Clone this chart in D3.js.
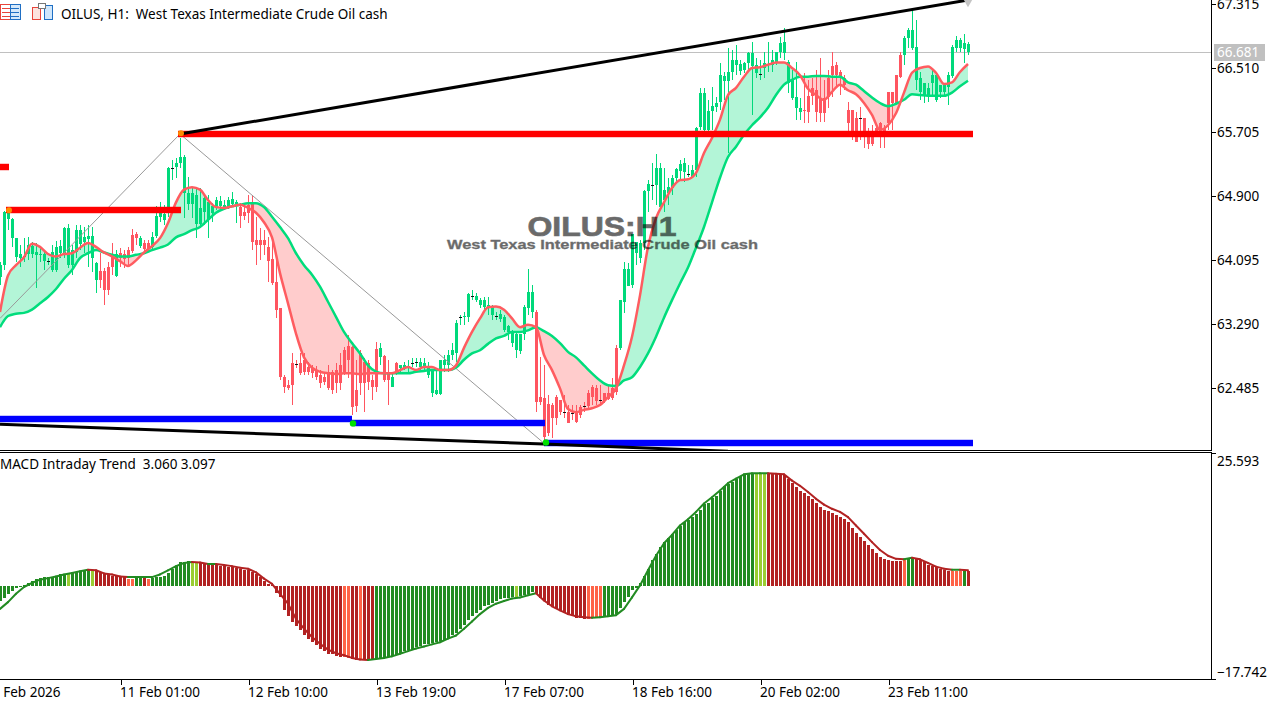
<!DOCTYPE html>
<html><head><meta charset="utf-8"><title>OILUS H1</title>
<script src="https://cdn.jsdelivr.net/npm/d3@7"></script>
<style>html,body{margin:0;padding:0;background:#fff;overflow:hidden}svg{display:block}text{font-family:"Noto Sans",Tahoma,sans-serif;font-size:13.5px;fill:#000;white-space:pre}</style>
</head><body><svg id="c" width="1279" height="702"></svg>
<script>
const titleText="OILUS, H1:  West Texas Intermediate Crude Oil cash";
const macdLabel="MACD Intraday Trend  3.060 3.097";
const watermarkMain="OILUS:H1";
const watermarkSub="West Texas Intermediate Crude Oil cash";
const priceTicks=[67.315,66.510,65.705,64.900,64.095,63.290,62.485];
const lastPrice=66.681;
const lastPriceLevel=66.715;
const macdTicks=[25.593,-17.742];
const timeTickBars=[-2,30,62,94,126,158,190,222];
const timeTickLabels=["9 Feb 2026","11 Feb 01:00","12 Feb 10:00","13 Feb 19:00","17 Feb 07:00","18 Feb 16:00","20 Feb 02:00","23 Feb 11:00"];

const candleHigh=[64.07,64.71,64.72,64.62,64.37,64.28,64.37,64.38,64.32,64.31,
64.26,64.22,64.12,64.28,64.33,64.35,64.51,64.55,64.28,64.53,
64.53,64.51,64.53,64.51,64.07,64.18,63.99,64.07,64.31,64.22,
64.24,64.22,64.26,64.48,64.45,64.40,64.35,64.35,64.45,64.77,
64.82,64.79,65.26,65.35,65.38,65.63,65.42,65.14,65.00,65.00,
65.00,64.91,64.91,64.81,64.89,64.90,64.85,64.89,64.95,64.85,
64.81,64.79,64.91,64.91,64.64,64.50,64.47,64.38,64.35,64.09,
63.49,62.65,62.58,62.92,62.84,62.92,62.92,62.81,62.77,62.76,
62.71,62.69,62.77,62.71,62.80,62.92,63.00,63.15,63.01,62.84,
62.96,62.86,62.84,62.65,63.06,63.05,62.90,62.84,62.69,62.81,
62.77,62.81,62.84,62.86,62.86,62.86,62.86,62.81,62.71,62.71,
62.84,62.90,62.96,63.05,63.34,63.40,63.44,63.68,63.72,63.68,
63.62,63.63,63.63,63.53,63.44,63.47,63.40,63.28,63.21,63.19,
63.16,63.53,63.98,63.78,63.47,62.87,62.77,62.40,62.30,62.40,
62.33,62.40,62.27,62.27,62.27,62.27,62.31,62.46,62.52,62.52,
62.52,62.42,62.52,62.61,63.03,63.59,64.07,64.06,64.42,64.32,
64.35,64.98,65.10,65.31,65.43,65.31,65.25,65.13,65.16,65.25,
65.35,65.38,65.29,65.29,65.77,66.26,66.26,66.11,66.27,66.14,
66.57,66.46,66.76,66.74,66.80,66.61,66.58,66.71,66.84,66.64,
66.61,66.71,66.84,66.74,66.71,66.90,67.01,66.61,66.48,66.58,
66.13,66.45,66.36,66.38,66.48,66.64,66.36,66.48,66.71,66.58,
66.48,66.42,66.08,65.98,65.96,66.02,65.88,65.75,65.79,65.79,
65.83,65.79,66.21,66.21,66.42,66.71,66.91,67.01,67.24,67.11,
66.46,66.32,66.32,66.48,66.46,66.30,66.32,66.46,66.80,66.91,
66.89,66.94,66.84];
const candleLow=[63.78,63.97,64.47,64.26,64.07,64.01,64.07,64.09,64.12,63.74,
64.07,63.97,64.03,63.94,63.94,64.12,64.12,63.99,63.91,64.12,
64.22,64.18,64.01,63.94,63.68,63.74,63.53,63.65,63.91,63.88,
64.01,63.99,64.01,64.18,64.28,64.25,64.19,64.19,64.22,64.37,
64.57,64.53,64.64,65.10,65.13,65.25,64.62,64.72,64.62,64.37,
64.50,64.53,64.37,64.57,64.72,64.74,64.72,64.74,64.77,64.56,
64.50,64.60,64.56,64.22,64.03,64.09,64.16,63.82,63.78,63.36,
62.58,62.42,62.46,62.27,62.74,62.65,62.65,62.65,62.61,62.58,
62.48,62.52,62.46,62.41,62.42,62.46,62.65,62.61,62.14,62.18,
62.40,62.18,62.46,62.33,62.43,62.77,62.56,62.27,62.50,62.65,
62.69,62.71,62.69,62.75,62.75,62.71,62.71,62.61,62.37,62.40,
62.40,62.69,62.69,62.84,62.81,63.28,63.28,63.31,63.59,63.57,
63.49,63.47,63.40,63.34,63.34,63.31,63.19,63.09,63.00,62.86,
62.91,63.09,63.40,63.37,62.18,62.27,61.83,61.88,61.86,62.02,
62.14,62.11,62.04,62.08,62.04,62.11,62.18,62.21,62.27,62.27,
62.28,62.30,62.33,62.33,62.40,62.96,63.43,63.77,63.74,64.03,
64.06,64.22,64.70,64.85,64.79,64.72,64.70,64.79,64.91,65.08,
65.10,65.08,65.14,65.14,65.14,65.73,65.68,65.70,65.73,65.96,
65.98,66.11,65.44,66.36,66.42,66.42,66.45,66.48,65.92,66.38,
66.36,66.38,66.46,66.46,66.55,66.64,66.61,66.20,66.11,65.86,
65.86,65.82,65.82,66.04,65.83,65.83,65.83,66.01,66.14,66.26,
66.17,66.23,65.70,65.60,65.58,65.60,65.51,65.49,65.53,65.67,
65.51,65.51,65.73,65.73,66.04,66.38,66.55,66.76,66.74,66.23,
66.11,66.07,66.08,66.17,66.08,66.13,66.17,66.04,66.38,66.71,
66.71,66.57,66.67];
const candleOpen=[63.88,64.03,64.61,64.37,64.13,64.12,64.14,64.17,64.17,64.16,
64.16,64.08,64.08,63.97,63.97,64.18,64.18,64.03,64.03,64.19,
64.30,64.32,64.36,64.12,63.84,63.96,63.96,64.01,64.16,63.89,
64.18,64.17,64.22,64.41,64.42,64.27,64.31,64.31,64.26,64.40,
64.64,64.60,64.76,65.25,65.26,65.31,64.94,64.80,64.80,64.55,
64.55,64.70,64.60,64.69,64.76,64.77,64.75,64.76,64.80,64.80,
64.76,64.70,64.79,64.81,64.35,64.35,64.35,64.26,64.11,63.82,
63.49,62.62,62.52,62.80,62.79,62.80,62.84,62.75,62.74,62.71,
62.65,62.62,62.69,62.69,62.71,62.77,62.96,63.01,63.00,62.46,
62.92,62.81,62.80,62.58,62.97,62.87,62.89,62.67,62.50,62.80,
62.74,62.74,62.74,62.80,62.81,62.75,62.75,62.65,62.42,62.41,
62.41,62.77,62.77,62.90,62.92,63.38,63.38,63.38,63.64,63.59,
63.53,63.50,63.50,63.40,63.39,63.35,63.22,63.19,63.05,62.96,
62.95,63.16,63.49,63.44,63.44,62.37,62.36,62.28,62.27,62.37,
62.33,62.18,62.18,62.17,62.18,62.25,62.26,62.42,62.50,62.48,
62.33,62.42,62.42,62.48,62.99,62.99,63.57,63.77,63.78,64.18,
64.12,64.31,64.96,65.04,65.04,64.76,64.85,64.94,65.00,65.13,
65.21,65.20,65.18,65.14,65.23,65.77,65.73,65.73,65.97,66.02,
66.08,66.35,66.35,66.46,66.55,66.47,66.48,66.57,66.53,66.45,
66.43,66.51,66.56,66.55,66.58,66.71,66.70,66.32,66.13,66.01,
65.96,65.98,66.16,66.26,66.23,66.13,66.13,66.38,66.53,66.55,
66.46,66.38,65.98,65.98,65.88,65.88,65.88,65.70,65.70,65.75,
65.82,65.75,66.21,66.21,66.42,66.67,66.67,66.89,66.76,66.36,
66.21,66.17,66.17,66.32,66.11,66.21,66.21,66.27,66.41,66.76,
66.76,66.75,66.71];
const candleClose=[64.03,64.70,64.72,64.61,64.37,64.17,64.14,64.28,64.27,64.19,
64.17,64.17,64.08,64.19,64.26,64.27,64.50,64.50,64.22,64.47,
64.47,64.38,64.40,64.40,64.06,63.84,63.72,63.72,64.01,64.17,
64.12,64.11,64.12,64.21,64.37,64.37,64.23,64.23,64.38,64.65,
64.69,64.67,65.25,65.25,65.31,65.39,65.39,64.94,64.94,64.91,
64.75,64.87,64.82,64.77,64.85,64.84,64.79,64.85,64.86,64.82,
64.65,64.65,64.69,64.32,64.28,64.28,64.28,64.08,63.81,63.47,
62.62,62.50,62.48,62.52,62.79,62.67,62.69,62.69,62.67,62.62,
62.55,62.56,62.48,62.46,62.55,62.55,62.69,62.84,62.25,62.26,
62.55,62.55,62.56,62.50,62.50,62.99,62.58,62.58,62.62,62.67,
62.77,62.77,62.76,62.80,62.81,62.81,62.80,62.75,62.71,62.46,
62.84,62.84,62.90,62.96,63.30,63.38,63.39,63.67,63.64,63.64,
63.59,63.59,63.53,63.50,63.39,63.41,63.38,63.27,63.19,63.16,
63.16,63.50,63.69,63.69,62.31,62.31,61.87,61.92,62.11,62.11,
62.18,62.18,62.04,62.17,62.06,62.14,62.26,62.26,62.37,62.32,
62.33,62.32,62.35,62.36,62.43,63.59,63.98,63.98,64.42,64.32,
64.31,64.96,65.05,65.04,65.25,65.25,64.98,65.01,65.13,65.24,
65.30,65.31,65.18,65.23,65.75,66.20,66.20,65.97,66.03,66.07,
66.42,66.41,66.46,66.61,66.61,66.56,66.57,66.70,66.70,66.55,
66.43,66.57,66.56,66.61,66.71,66.82,66.84,66.58,66.36,66.14,
66.01,65.97,65.96,66.16,65.96,65.94,65.94,66.14,66.42,66.42,
66.38,66.30,65.82,65.64,65.58,65.88,65.70,65.55,65.55,65.70,
65.73,65.70,65.82,66.07,66.07,66.40,66.89,66.99,66.99,66.77,
66.38,66.32,66.26,66.42,66.42,66.30,66.30,66.42,66.77,66.86,
66.86,66.82,66.81];

// moving averages, read every second bar
const lineBarStep=2;
const fastAverage=[63.44,63.90,64.03,64.13,64.30,64.26,64.17,64.14,64.17,64.18,
64.25,64.31,64.26,64.19,64.14,64.08,64.02,64.09,64.19,64.27,
64.37,64.56,64.82,64.98,65.01,64.98,64.85,64.76,64.75,64.77,
64.79,64.75,64.69,64.57,64.38,63.93,63.55,63.17,62.87,62.74,
62.69,62.67,62.66,62.67,62.67,62.66,62.67,62.67,62.67,62.67,
62.71,62.75,62.71,62.75,62.75,62.71,62.71,62.77,62.99,63.19,
63.36,63.50,63.51,63.47,63.36,63.25,63.28,63.25,62.90,62.71,
62.48,62.22,62.18,62.21,62.23,62.27,62.37,62.48,62.77,63.13,
63.65,64.26,64.62,64.82,65.00,65.10,65.11,65.19,65.44,65.63,
65.86,66.17,66.26,66.40,66.51,66.52,66.55,66.58,66.58,66.51,
66.42,66.25,66.17,66.11,66.21,66.30,66.23,66.18,66.07,65.92,
65.73,65.79,65.94,66.20,66.45,66.51,66.53,66.45,66.31,66.33,
66.46,66.56];
const slowAverage=[63.25,63.39,63.42,63.43,63.47,63.55,63.63,63.73,63.86,63.97,
64.12,64.18,64.22,64.19,64.16,64.14,64.14,64.16,64.18,64.22,
64.25,64.29,64.38,64.42,64.47,64.51,64.60,64.69,64.74,64.77,
64.79,64.81,64.81,64.76,64.64,64.51,64.37,64.18,64.03,63.91,
63.76,63.57,63.38,63.19,63.05,62.92,62.77,62.69,62.67,62.67,
62.67,62.67,62.69,62.70,62.71,62.71,62.71,62.74,62.84,62.92,
62.96,63.04,63.11,63.14,63.19,63.19,63.21,63.25,63.20,63.14,
63.05,62.94,62.87,62.77,62.67,62.58,62.52,62.51,62.58,62.62,
62.75,62.92,63.13,63.37,63.59,63.80,64.00,64.25,64.51,64.82,
65.13,65.39,65.52,65.67,65.79,65.89,66.01,66.17,66.30,66.36,
66.40,66.40,66.41,66.41,66.40,66.40,66.33,66.30,66.22,66.14,
66.07,66.03,66.06,66.11,66.18,66.17,66.16,66.16,66.16,66.20,
66.28,66.35];

const macdHist=[-2.8,-2.3,-1.5,-.8,-.3,-.1,.2,.7,1.1,1.4,
1.6,1.8,1.8,1.9,2.1,2.3,2.4,2.4,2.6,2.7,
2.9,3.1,3.2,3.2,3.0,2.8,2.5,2.3,2.1,2.0,
1.9,1.8,1.5,1.5,1.7,1.7,1.7,1.5,1.7,1.8,
1.9,2.1,2.6,3.4,3.9,4.7,4.7,4.9,4.5,4.5,
4.5,4.3,4.3,4.2,4.1,4.0,3.9,3.8,3.7,3.6,
3.3,3.2,3.1,2.7,2.4,1.9,1.0,.5,.2,-1.3,
-2.1,-4.5,-5.7,-6.8,-7.5,-8.4,-9.3,-10.0,-10.7,-11.2,
-11.9,-12.3,-12.9,-13.0,-13.4,-13.5,-13.5,-13.7,-13.9,-14.1,
-14.1,-14.1,-14.1,-14.1,-13.9,-13.9,-13.7,-13.5,-13.4,-13.2,
-12.8,-12.4,-12.1,-11.9,-11.6,-11.4,-11.1,-11.0,-10.9,-10.7,
-10.5,-10.2,-9.8,-9.4,-8.9,-8.1,-7.3,-6.5,-5.7,-5.0,
-4.5,-3.8,-3.5,-3.1,-2.7,-2.4,-2.3,-2.2,-2.1,-2.1,
-1.9,-1.7,-1.4,-1.1,-1.4,-2.2,-2.8,-3.5,-3.9,-4.3,
-4.7,-5.1,-5.5,-5.7,-6.1,-6.1,-6.2,-6.3,-6.1,-5.9,
-5.9,-5.7,-5.7,-5.6,-5.3,-4.1,-3.0,-2.1,-.7,-.3,
.7,2.1,3.4,5.0,6.3,7.5,8.5,9.3,10.1,10.9,
11.5,12.3,12.8,13.4,13.9,14.7,15.9,16.1,17.0,17.4,
18.3,19.3,19.7,20.0,20.6,21.1,21.4,21.8,21.8,21.8,
21.7,21.6,21.6,21.6,21.5,21.5,21.4,20.6,19.9,19.1,
18.4,17.9,17.4,16.8,16.1,15.3,14.7,14.4,14.1,13.8,
13.3,12.9,12.3,11.2,10.3,9.5,8.8,7.9,7.2,6.5,
5.6,5.2,5.0,4.9,4.8,4.8,5.0,5.5,5.5,5.3,
5.0,4.7,4.1,4.0,3.7,3.4,3.1,2.9,2.9,3.0,
3.0,3.0,3.06];
const macdSignal=[-4.3,-3.0,-1.4,-.1,.7,1.3,1.6,1.9,2.3,2.6,
2.9,3.2,3.1,2.5,2.3,1.9,1.8,1.8,1.8,1.8,
2.3,3.1,3.9,4.5,4.7,4.6,4.3,4.3,4.1,3.9,
3.6,3.4,2.7,1.5,.5,-1.4,-3.3,-6.2,-8.1,-9.7,
-11.0,-12.1,-12.8,-13.2,-13.7,-14.0,-14.1,-13.9,-13.7,-13.4,
-12.9,-12.4,-11.9,-11.5,-11.1,-10.7,-10.0,-9.4,-8.1,-6.7,
-5.3,-4.1,-3.3,-2.8,-2.3,-2.1,-1.7,-1.3,-2.7,-3.8,
-4.6,-5.3,-5.7,-5.9,-6.0,-5.9,-5.7,-5.5,-4.3,-2.1,
.2,3.1,5.9,8.3,9.9,11.7,12.9,14.3,15.9,17.1,
18.4,19.8,20.7,21.5,21.7,21.7,21.7,21.6,21.5,20.3,
19.3,18.1,16.8,15.7,14.9,14.3,13.3,11.7,10.1,8.5,
7.0,5.9,5.3,5.2,5.5,5.2,4.5,3.8,3.4,3.2,
3.2,3.097];
// histogram state runs: [last bar of the run, state]
const histRuns=[[16,"up"],[17,"upWeak"],[22,"up"],[23,"upWeak"],[31,"down"],[33,"downWeak"],[35,"up"],[36,"down"],[37,"downWeak"],[47,"up"],[49,"upWeak"],[85,"down"],[87,"downWeak"],[89,"down"],[90,"downWeak"],[93,"down"],[128,"up"],[129,"upWeak"],[133,"up"],[146,"down"],[150,"downWeak"],[188,"up"],[191,"upWeak"],[225,"down"],[226,"downWeak"],[228,"up"],[237,"down"],[240,"downWeak"],[241,"up"],[242,"down"]];

const resistanceLevels=[{from:-3,to:2.25,price:65.26},{from:1.5,to:45.25,price:64.72},{from:44.5,to:243.25,price:65.68}];
const supportLevels=[{from:-3,to:88,price:62.09},{from:88,to:136.25,price:62.04},{from:136,to:243.25,price:61.79}];
const trendUpper=[{bar:45,price:65.68},{bar:242,price:67.365}];
const trendLower=[{bar:0,price:62.03},{bar:136,price:61.78},{bar:182,price:61.69}];
const zigzag=[{bar:0,price:63.36},{bar:45,price:65.68},{bar:136,price:61.79}];
const orangeDots=[{bar:2.25,price:64.72},{bar:45.25,price:65.69}];
const greenDots=[{bar:88.25,price:62.04},{bar:136.5,price:61.80}];

const svg=d3.select("#c");
const paneRight=1211;
const x=d3.scaleLinear().domain([0,242]).range([0,968]);
const yP=d3.scaleLinear().domain([62.485,67.315]).range([388,4]);
const yM=d3.scaleLinear().domain([25.593,-17.742]).range([453,679]);
const up="#00d97b",dn="#ff5560";
const histColor=d3.scaleOrdinal().domain(["up","upWeak","down","downWeak"]).range(["#228b22","#9acd32","#b22222","#ff6347"]);
const n=candleOpen.length;
const bars=d3.range(n);
const histState=[];
{let r=0;bars.forEach(i=>{while(histRuns[r][0]<i)r++;histState.push(histRuns[r][1]);});}
const candleColor=[];
bars.forEach(i=>{const d=candleClose[i]-candleOpen[i];candleColor.push(d>0?up:d<0?dn:(i?candleColor[i-1]:up));});

const defs=svg.append("defs");
defs.append("clipPath").attr("id","pMain").append("rect").attr("x",0).attr("y",0).attr("width",paneRight).attr("height",450);
defs.append("clipPath").attr("id","pMacd").append("rect").attr("x",0).attr("y",453).attr("width",paneRight).attr("height",226);

const gMain=svg.append("g").attr("clip-path","url(#pMain)");
const ptsX=i=>x(i*lineBarStep);
const idx=d3.range(Math.min(fastAverage.length,slowAverage.length));
// fill between averages, split at the slow line
defs.append("clipPath").attr("id","aboveSlow").append("path")
  .attr("d",d3.area().x(ptsX).y0(0).y1(i=>yP(slowAverage[i]))(idx));
defs.append("clipPath").attr("id","belowSlow").append("path")
  .attr("d",d3.area().x(ptsX).y0(450).y1(i=>yP(slowAverage[i]))(idx));
const band=d3.area().x(ptsX).y0(i=>yP(slowAverage[i])).y1(i=>yP(fastAverage[i]));
gMain.append("path").attr("d",band(idx)).attr("fill","#b3f5d7").attr("clip-path","url(#aboveSlow)");
gMain.append("path").attr("d",band(idx)).attr("fill","#ffcccc").attr("clip-path","url(#belowSlow)");

// price line
gMain.append("line").attr("x1",0).attr("x2",paneRight).attr("y1",Math.round(yP(lastPriceLevel))+.5).attr("y2",Math.round(yP(lastPriceLevel))+.5).attr("stroke","#c0c0c0");

// candles
const gC=gMain.append("g").attr("shape-rendering","crispEdges");
gC.selectAll("rect.w").data(bars).join("rect").attr("class","w")
  .attr("x",i=>x(i)).attr("width",1)
  .attr("y",i=>yP(candleHigh[i])).attr("height",i=>Math.max(1,yP(candleLow[i])-yP(candleHigh[i])))
  .attr("fill",i=>candleColor[i]);
gC.selectAll("rect.b").data(bars.filter(i=>candleOpen[i]!==candleClose[i])).join("rect").attr("class","b")
  .attr("x",i=>x(i)-1).attr("width",3)
  .attr("y",i=>yP(Math.max(candleOpen[i],candleClose[i])))
  .attr("height",i=>Math.max(1,Math.abs(yP(candleOpen[i])-yP(candleClose[i]))))
  .attr("fill",i=>candleColor[i]);
gC.selectAll("rect.d").data(bars.filter(i=>candleOpen[i]===candleClose[i])).join("rect").attr("class","d")
  .attr("x",i=>x(i)-1).attr("width",3).attr("height",1)
  .attr("y",i=>yP(candleClose[i])).attr("fill","#111");

// zigzag
const lineP=d3.line().x(d=>x(d.bar)).y(d=>yP(d.price));
gMain.append("path").attr("d",lineP(zigzag)).attr("fill","none").attr("stroke","#999").attr("stroke-width",1);

// averages
gMain.append("path").attr("d",d3.line().x(ptsX).y(i=>yP(slowAverage[i])).curve(d3.curveMonotoneX)(idx)).attr("fill","none").attr("stroke","#00dd7c").attr("stroke-width",2.5);
gMain.append("path").attr("d",d3.line().x(ptsX).y(i=>yP(fastAverage[i])).curve(d3.curveMonotoneX)(idx)).attr("fill","none").attr("stroke","#ff5c60").attr("stroke-width",2.5);

// levels
function levels(data,color){
  const g=gMain.append("g").attr("shape-rendering","crispEdges");
  g.selectAll("rect.halo").data(data).join("rect").attr("class","halo")
    .attr("x",d=>x(d.from)).attr("width",d=>x(d.to)-x(d.from))
    .attr("y",d=>Math.round(yP(d.price))-4).attr("height",8).attr("fill",color).attr("opacity",.22);
  g.selectAll("rect.core").data(data).join("rect").attr("class","core")
    .attr("x",d=>x(d.from)).attr("width",d=>x(d.to)-x(d.from))
    .attr("y",d=>Math.round(yP(d.price))-3).attr("height",6).attr("fill",color);
}
levels(resistanceLevels,"#ff0000");
levels(supportLevels,"#0000ff");

// trend lines
[trendUpper,trendLower].forEach(t=>gMain.append("path").attr("d",lineP(t)).attr("fill","none").attr("stroke","#000").attr("stroke-width",3));
gMain.append("path").attr("transform",`translate(${x(242)},${yP(67.365)})`).attr("d",d3.symbol(d3.symbolDiamond,60)()).attr("fill","#c4c4c4");

gMain.selectAll("circle.o").data(orangeDots).join("circle").attr("class","o").attr("cx",d=>x(d.bar)).attr("cy",d=>yP(d.price)).attr("r",3).attr("fill","#ff8c00");
gMain.selectAll("circle.g").data(greenDots).join("circle").attr("class","g").attr("cx",d=>x(d.bar)).attr("cy",d=>yP(d.price)).attr("r",3.2).attr("fill","#00e000");

// watermark
svg.append("text").attr("x",602).attr("y",236).attr("text-anchor","middle")
  .style("font-family","'Liberation Sans',Arial,sans-serif").style("font-weight","bold").style("font-size","27px")
  .style("fill","#000").style("stroke","#000").style("stroke-width",".7px").style("opacity",.58)
  .attr("textLength",149).attr("lengthAdjust","spacingAndGlyphs").text(watermarkMain);
svg.append("text").attr("x",602.5).attr("y",249).attr("text-anchor","middle")
  .style("font-family","'Liberation Sans',Arial,sans-serif").style("font-weight","bold").style("font-size","13.5px")
  .style("fill","#000").style("stroke","#000").style("stroke-width",".35px").style("opacity",.58)
  .attr("textLength",311).attr("lengthAdjust","spacingAndGlyphs").text(watermarkSub);

// MACD pane
const gM=svg.append("g").attr("clip-path","url(#pMacd)");
gM.append("g").attr("shape-rendering","crispEdges").selectAll("rect").data(bars).join("rect")
  .attr("x",i=>x(i)-1).attr("width",3)
  .attr("y",i=>Math.min(yM(0),yM(macdHist[i])))
  .attr("height",i=>Math.max(1,Math.abs(yM(macdHist[i])-yM(0))))
  .attr("fill",i=>histColor(histState[i]));
const sigIdx=d3.range(macdSignal.length-1);
gM.append("g").selectAll("line").data(sigIdx).join("line")
  .attr("x1",ptsX).attr("x2",i=>ptsX(i+1))
  .attr("y1",i=>yM(macdSignal[i])).attr("y2",i=>yM(macdSignal[i+1]))
  .attr("stroke",i=>macdSignal[i+1]>=macdSignal[i]?"#228b22":"#b22222")
  .attr("stroke-width",2).attr("stroke-linecap","round");

// frame
const frame=svg.append("g").attr("stroke","#000").attr("shape-rendering","crispEdges");
frame.append("line").attr("x1",paneRight+.5).attr("x2",paneRight+.5).attr("y1",0).attr("y2",451);
frame.append("line").attr("x1",paneRight+.5).attr("x2",paneRight+.5).attr("y1",452).attr("y2",680);
frame.append("line").attr("x1",0).attr("x2",paneRight+1).attr("y1",450.5).attr("y2",450.5);
frame.append("line").attr("x1",0).attr("x2",paneRight+1).attr("y1",452.5).attr("y2",452.5);
frame.append("line").attr("x1",0).attr("x2",paneRight+1).attr("y1",679.5).attr("y2",679.5);

// axes
const axP=svg.append("g").attr("transform",`translate(${paneRight+1},0)`)
  .call(d3.axisRight(yP).tickValues(priceTicks).tickFormat(d3.format(".3f")).tickSize(4).tickPadding(1));
axP.select(".domain").remove();
axP.selectAll("line").attr("stroke","#000").attr("shape-rendering","crispEdges");
axP.selectAll("text").attr("x",5).attr("dy",".35em");
const axM=svg.append("g").attr("transform",`translate(${paneRight+1},0)`)
  .call(d3.axisRight(yM).tickValues(macdTicks).tickFormat(d3.format(".3f")).tickSize(4).tickPadding(1));
axM.select(".domain").remove();
axM.selectAll("line").attr("stroke","#000").attr("shape-rendering","crispEdges");
axM.selectAll("text").attr("x",5).attr("dy",(d,i)=>i===0?"12.5px":"-2.5px");
const axT=svg.append("g").attr("transform","translate(0.5,679.5)")
  .call(d3.axisBottom(x).tickValues(timeTickBars).tickFormat((d,i)=>timeTickLabels[i]).tickSize(5).tickPadding(4));
axT.select(".domain").remove();
axT.selectAll("line").attr("stroke","#000").attr("shape-rendering","crispEdges");
axT.selectAll("text").attr("text-anchor","start").attr("x",-1).attr("dy","8px");
svg.selectAll("g.tick text").style("font-size","13.5px").style("font-family",'"Noto Sans",Tahoma,sans-serif').style("fill","#000");

// last price tag
const tagY=Math.round(yP(lastPriceLevel))+.5;
svg.append("rect").attr("x",1214).attr("y",tagY-8.5).attr("width",51).attr("height",17).attr("fill","#c0c0c0");
svg.append("text").attr("x",1217).attr("y",tagY+4.5).style("fill","#fff").text(lastPrice.toFixed(3));

// header
svg.append("text").attr("x",61).attr("y",19).text(titleText);
svg.append("text").attr("x",0).attr("y",469).text(macdLabel);
const ic=svg.append("g").attr("shape-rendering","crispEdges").attr("fill","none");
ic.append("rect").attr("x",.5).attr("y",4.5).attr("width",10).attr("height",15).attr("stroke","#e8443a");
ic.append("rect").attr("x",10.5).attr("y",4.5).attr("width",10).attr("height",15).attr("stroke","#1f6fc4").attr("fill","#d5e9fb");
[8,12,16].forEach(v=>{ic.append("line").attr("x1",2).attr("x2",10).attr("y1",v+.5).attr("y2",v+.5).attr("stroke","#e8443a");
  ic.append("line").attr("x1",11).attr("x2",19).attr("y1",v+.5).attr("y2",v+.5).attr("stroke","#1f6fc4");});
ic.append("rect").attr("x",32.5).attr("y",7.5).attr("width",8).attr("height",12).attr("stroke","#e8443a").attr("fill","#fde3df");
ic.append("rect").attr("x",44.5).attr("y",5.5).attr("width",8).attr("height",14).attr("stroke","#1f6fc4").attr("fill","#cfe6fb");
ic.append("rect").attr("x",38.5).attr("y",3.5).attr("width",7).attr("height",5).attr("stroke","#777").attr("fill","#fff");
</script></body></html>
